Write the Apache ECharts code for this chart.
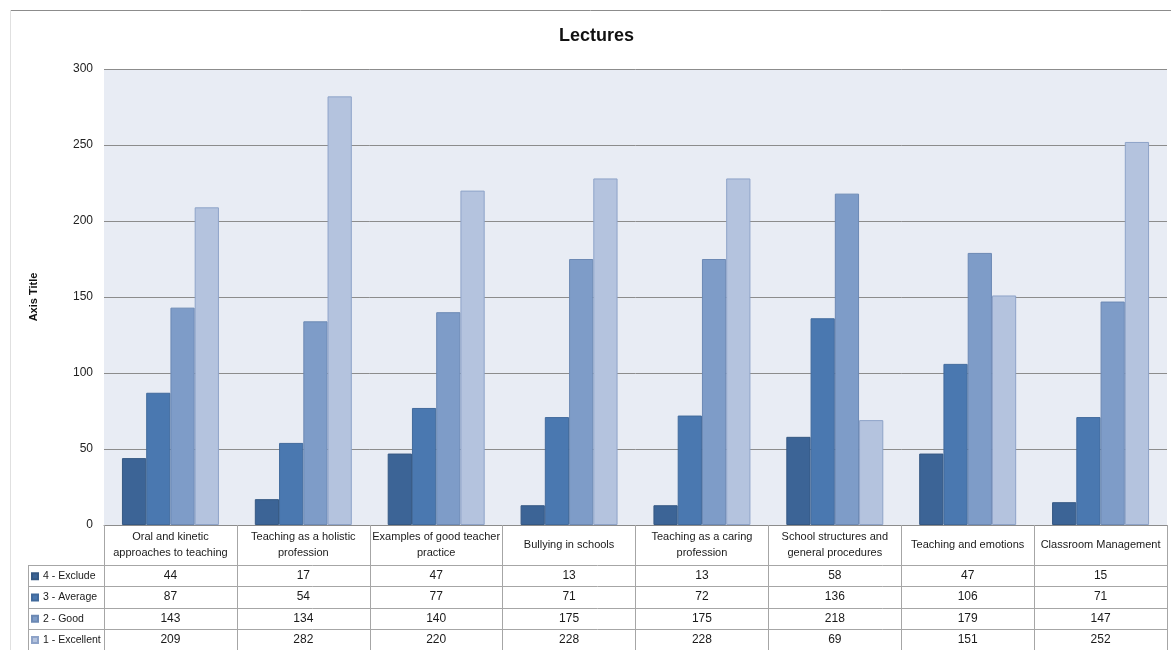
<!DOCTYPE html>
<html>
<head>
<meta charset="utf-8">
<title>Lectures</title>
<script src="https://cdn.jsdelivr.net/npm/echarts@6/dist/echarts.min.js"></script>
<style>
  html, body { margin: 0; padding: 0; background: #ffffff; }
  #chart { width: 1171px; height: 650px; }
</style>
</head>
<body>
<div id="chart"></div>
<script>
// Lecture topics (table header / x categories)
const categories = [
  'Oral and kinetic\napproaches to teaching',
  'Teaching as a holistic\nprofession',
  'Examples of good teacher\npractice',
  'Bullying in schools',
  'Teaching as a caring\nprofession',
  'School structures and\ngeneral procedures',
  'Teaching and emotions',
  'Classroom Management'
];

// Rating groups, in the order they appear in the data table
const seriesNames = ['4 - Exclude', '3 - Average', '2 - Good', '1 - Excellent'];

// Counts per rating
const exclude   = [44, 17, 47, 13, 13, 58, 47, 15];
const average   = [87, 54, 77, 71, 72, 136, 106, 71];
const good      = [143, 134, 140, 175, 175, 218, 179, 147];
const excellent = [209, 282, 220, 228, 228, 69, 151, 252];

// Value axis ticks
const yMin = 0, yMax = 300, yStep = 50;

const rows = [exclude, average, good, excellent];
const fills = ['#3C6496', '#4A78B0', '#7E9CC8', '#B4C3DE'];
const edges = ['#355883', '#416A9C', '#6C89B4', '#8EA3C8'];

const FONT = "'Liberation Sans', Arial, sans-serif";
const GRID = { left: 104, right: 4, top: 69, bottom: 125 };
const AXIS_Y = 650 - GRID.bottom;          // pixel row of the category axis
const TABLE_LEFT = 28, TABLE_RIGHT = 1167;
const ROW_TOP = 565, ROW_H = 21.3;          // data table rows

const chart = echarts.init(document.getElementById('chart'), null, { renderer: 'canvas' });

// Extra category axes that print each series' values as one table row
const valueRowAxes = rows.map((vals, r) => ({
  type: 'category',
  gridIndex: 0,
  position: 'bottom',
  data: categories,
  axisLine: { show: false },
  axisTick: { show: false },
  splitLine: { show: false },
  axisLabel: {
    interval: 0,
    margin: ROW_TOP + ROW_H * r + ROW_H / 2 - AXIS_Y,
    verticalAlign: 'middle',
    fontFamily: FONT,
    fontSize: 12,
    color: '#1a1a1a',
    formatter: (v, idx) => String(vals[idx])
  }
}));

// Table rules: horizontal row lines and the left edge of the label column
const tableLines = [];
for (let r = 0; r < rows.length; r++) {
  const y = Math.round(ROW_TOP + ROW_H * r) + 0.5;
  tableLines.push({
    type: 'line',
    shape: { x1: TABLE_LEFT, y1: y, x2: TABLE_RIGHT, y2: y },
    style: { stroke: '#a6a6a6', lineWidth: 1 },
    silent: true
  });
}
tableLines.push({
  type: 'line',
  shape: { x1: TABLE_LEFT + 0.5, y1: ROW_TOP, x2: TABLE_LEFT + 0.5, y2: 650 },
  style: { stroke: '#a6a6a6', lineWidth: 1 },
  silent: true
});
// Frame of the chart area
tableLines.push({
  type: 'line',
  shape: { x1: 10, y1: 10.5, x2: 1171, y2: 10.5 },
  style: { stroke: '#8c8c8c', lineWidth: 1 },
  silent: true
});
tableLines.push({
  type: 'line',
  shape: { x1: 10.5, y1: 10, x2: 10.5, y2: 650 },
  style: { stroke: '#e0e0e0', lineWidth: 1 },
  silent: true
});

const option = {
  animation: false,
  backgroundColor: '#ffffff',
  title: {
    text: 'Lectures',
    left: 559,
    top: 27,
    padding: 0,
    textStyle: { fontFamily: FONT, fontSize: 18, fontWeight: 'bold', color: '#111111' }
  },
  legend: {
    data: seriesNames,
    orient: 'vertical',
    left: 31,
    top: ROW_TOP + 0.5,
    height: 120,
    padding: 0,
    itemGap: 0,
    itemWidth: 6,
    itemHeight: 6,
    selectedMode: false,
    icon: 'rect',
    textStyle: { fontFamily: FONT, fontSize: 10.5, color: '#1a1a1a', lineHeight: ROW_H }
  },
  grid: {
    left: GRID.left, right: GRID.right, top: GRID.top, bottom: GRID.bottom,
    show: true, backgroundColor: '#E8ECF4', borderWidth: 0,
    containLabel: false
  },
  xAxis: [
    {
      type: 'category',
      gridIndex: 0,
      position: 'bottom',
      data: categories,
      axisLine: { show: true, lineStyle: { color: '#8c8c8c', width: 1 } },
      axisTick: { show: true, inside: false, length: 650 - AXIS_Y, lineStyle: { color: '#a6a6a6', width: 1 } },
      splitLine: { show: false },
      axisLabel: {
        interval: 0,
        margin: 20,
        verticalAlign: 'middle',
        align: 'center',
        fontFamily: FONT,
        fontSize: 11,
        lineHeight: 16,
        color: '#1a1a1a'
      }
    }
  ].concat(valueRowAxes),
  yAxis: {
    type: 'value',
    min: yMin,
    max: yMax,
    interval: yStep,
    name: 'Axis Title',
    nameLocation: 'middle',
    nameGap: 65,
    nameTextStyle: { fontFamily: FONT, fontSize: 11, fontWeight: 'bold', color: '#111111' },
    axisLine: { show: false },
    axisTick: { show: false },
    axisLabel: { margin: 11, fontFamily: FONT, fontSize: 12, color: '#222222' },
    splitLine: { show: true, lineStyle: { color: '#8c8c8c', width: 1 } }
  },
  series: seriesNames.map((name, i) => ({
    name: name,
    type: 'bar',
    xAxisIndex: 0,
    yAxisIndex: 0,
    data: rows[i],
    barGap: '0%',
    barCategoryGap: '27%',
    itemStyle: { color: fills[i], borderColor: edges[i], borderWidth: 1 }
  })),
  graphic: tableLines
};

chart.setOption(option);
</script>
</body>
</html>
